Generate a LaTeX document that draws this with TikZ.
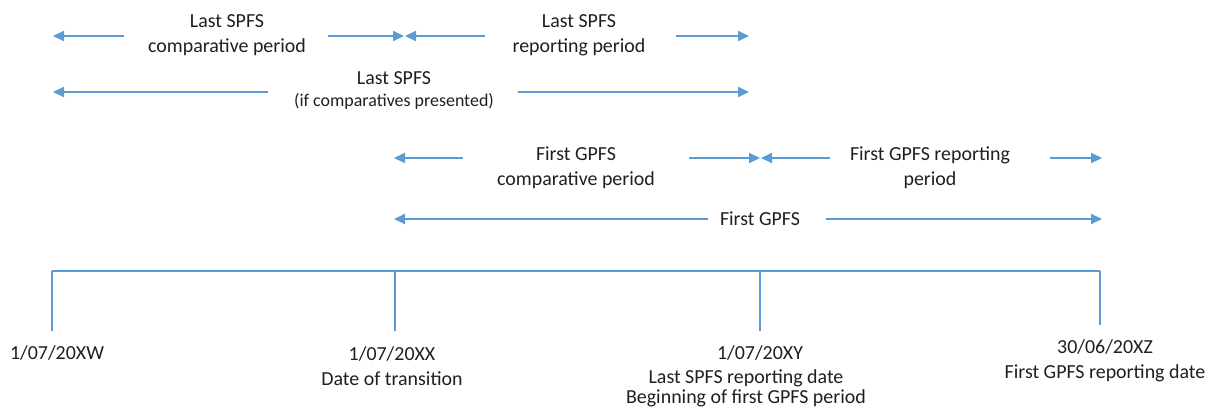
\documentclass[tikz,border=0pt]{standalone}
\usepackage{fontspec}
\setmainfont{Carlito}
\usetikzlibrary{arrows.meta}
\definecolor{arr}{HTML}{5B9BD5}
\definecolor{txt}{HTML}{1F1F1F}
\begin{document}
\begin{tikzpicture}[x=1bp,y=-1bp,
  per/.style={draw=arr, line width=2bp, -{Triangle[length=11bp,width=10bp]}},
  lbl/.style={text=txt, font=\fontsize{20}{25}\selectfont, align=center, inner sep=0pt},
  smlbl/.style={text=txt, font=\fontsize{18}{23}\selectfont, align=center, inner sep=0pt},
  tickln/.style={draw=arr, line width=1.5bp}]
\useasboundingbox (0,0) rectangle (1213,407);

% ---- timeline ----
\coordinate (t1) at (52,271);
\coordinate (t2) at (395,271);
\coordinate (t3) at (760,271);
\coordinate (t4) at (1100,271);
\coordinate (b1) at (52,331);
\coordinate (b2) at (395,331);
\coordinate (b3) at (760,331);
\coordinate (b4) at (1100,325);
\draw[tickln] (t1) -- (t4);
\draw[tickln] (t1) -- (b1);
\draw[tickln] (t2) -- (b2);
\draw[tickln] (t3) -- (b3);
\draw[tickln] (t4) -- (b4);

% ---- date labels ----
\node[lbl] (d1) at (57,353) {1/07/20XW};
\node[lbl] (d2) at (392,366) {1/07/20XX\\Date of transition};
\node[lbl] (d3a) at (760,353) {1/07/20XY};
\node[lbl] (d3b) at (746,378) {Last SPFS reporting date};
\node[lbl] (d3c) at (746,398) {Beginning of first GPFS period};
\node[lbl] (d4) at (1105,361) {30/06/20XZ\\First GPFS reporting date};

% ---- row 1 ----
\node[lbl] (r1a) at (227,35) {Last SPFS\\comparative period};
\node[lbl] (r1b) at (579,35) {Last SPFS\\reporting period};
\coordinate (p1) at (124,36);
\coordinate (q1) at (53,36);
\coordinate (p2) at (328,36);
\coordinate (q2) at (404,36);
\coordinate (p3) at (485,36);
\coordinate (q3) at (405,36);
\coordinate (p4) at (676,36);
\coordinate (q4) at (749,36);
\draw[per] (p1) -- (q1);
\draw[per] (p2) -- (q2);
\draw[per] (p3) -- (q3);
\draw[per] (p4) -- (q4);

% ---- row 2 ----
\node[lbl] (r2a) at (394,78) {Last SPFS};
\node[smlbl] (r2b) at (394,101) {(if comparatives presented)};
\coordinate (p5) at (268,92);
\coordinate (q5) at (53,92);
\coordinate (p6) at (518,92);
\coordinate (q6) at (749,92);
\draw[per] (p5) -- (q5);
\draw[per] (p6) -- (q6);

% ---- row 3 ----
\node[lbl] (r3a) at (576,168) {First GPFS\\comparative period};
\node[lbl] (r3b) at (930,168) {First GPFS reporting\\period};
\coordinate (p7) at (463,158);
\coordinate (q7) at (394,158);
\coordinate (p8) at (689,158);
\coordinate (q8) at (760,158);
\coordinate (p9) at (830,158);
\coordinate (q9) at (761,158);
\coordinate (p10) at (1050,158);
\coordinate (q10) at (1102,158);
\draw[per] (p7) -- (q7);
\draw[per] (p8) -- (q8);
\draw[per] (p9) -- (q9);
\draw[per] (p10) -- (q10);

% ---- row 4 ----
\node[lbl] (r4) at (760,219) {First GPFS};
\coordinate (p11) at (708,219);
\coordinate (q11) at (394,219);
\coordinate (p12) at (826,219);
\coordinate (q12) at (1102,219);
\draw[per] (p11) -- (q11);
\draw[per] (p12) -- (q12);
\end{tikzpicture}
\end{document}
